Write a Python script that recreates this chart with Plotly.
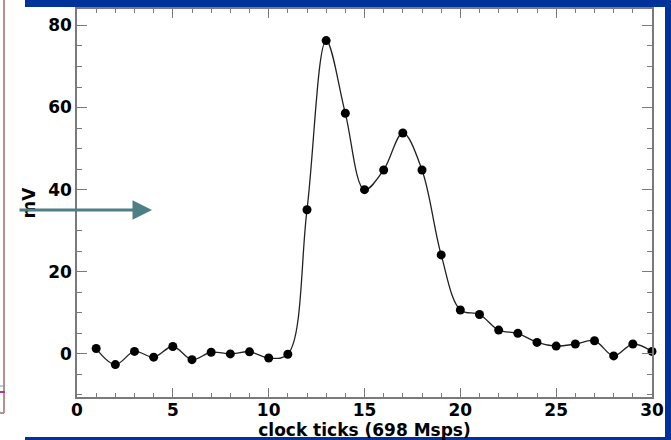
import plotly.graph_objects as go

# ---- data ----
clock_ticks = list(range(1, 31))
millivolts = [1.3, -2.6, 0.6, -0.8, 1.8, -1.4, 0.4, 0.0, 0.5, -1.0,
              -0.1, 35.1, 76.3, 58.6, 40.0, 44.8, 53.8, 44.8, 24.1, 10.7,
              9.6, 5.8, 5.0, 2.8, 1.9, 2.4, 3.2, -0.5, 2.4, 0.6]
x_tickvals = [0, 5, 10, 15, 20, 25, 30]
y_tickvals = [0, 20, 40, 60, 80]
x_title = "clock ticks (698 Msps)"
y_title = "mV"

W, H = 671, 440
L, R, T, B = 77, 19, 9, 43
PW, PH = W - L - R, H - T - B


def px(xp):
    return (xp - L) / PW


def py(yp):
    return (H - B - yp) / PH


BLUE = "#003399"
AX = "#7a7a7a"
FONT = dict(family="DejaVu Sans", size=17, color="black", weight="bold")

fig = go.Figure()
fig.add_trace(go.Scatter(
    x=clock_ticks, y=millivolts, mode="lines+markers",
    line=dict(color="#222222", width=1.3, shape="spline", smoothing=1.0),
    marker=dict(color="black", size=9),
    cliponaxis=False, showlegend=False,
))

shapes = [
    # white slide panel on the blue background
    dict(type="rect", xref="paper", yref="paper", layer="below",
         x0=px(25), x1=px(665), y0=py(7), y1=py(437), fillcolor="white", line_width=0),
    # white strip of the neighbouring panel at the left
    dict(type="rect", xref="paper", yref="paper", layer="below",
         x0=px(-2), x1=px(25), y0=py(-2), y1=py(H + 2), fillcolor="white", line_width=0),
    # left neighbouring panel edge
    dict(type="line", xref="paper", yref="paper", layer="below",
         x0=px(4), x1=px(4), y0=py(0), y1=py(413), line=dict(color="#b89090", width=2)),
    dict(type="line", xref="paper", yref="paper", layer="below",
         x0=px(0), x1=px(4), y0=py(413), y1=py(413), line=dict(color="#b89090", width=2)),
    dict(type="line", xref="paper", yref="paper", layer="below",
         x0=px(0), x1=px(5), y0=py(392), y1=py(392), line=dict(color="#a040a0", width=2)),
    dict(type="line", xref="paper", yref="paper", layer="below",
         x0=px(0), x1=px(5), y0=py(386), y1=py(386), line=dict(color="#9090a0", width=1)),
]

fig.update_layout(
    width=W, height=H,
    margin=dict(l=L, r=R, t=T, b=B, autoexpand=False),
    paper_bgcolor=BLUE, plot_bgcolor="white",
    shapes=shapes,
    annotations=[dict(
        xref="paper", yref="paper", x=px(152), y=py(210),
        ax=-134, ay=0, text="", showarrow=True,
        arrowhead=2, arrowsize=1.3, arrowwidth=3, arrowcolor="#4f7f86",
    )],
    xaxis=dict(
        range=[0, 30], tickvals=x_tickvals, ticks="inside", ticklen=9,
        tickcolor=AX, tickwidth=1.2, showline=True, linecolor=AX, linewidth=1.5,
        mirror="ticks", showgrid=False, zeroline=False, tickfont=FONT,
        automargin=False, ticklabelstandoff=-3,
        minor=dict(dtick=1, ticks="inside", ticklen=4, tickcolor=AX, showgrid=False),
        title=dict(text=x_title, font=FONT, standoff=3),
    ),
    yaxis=dict(
        range=[-10.5, 84], tickvals=y_tickvals, ticks="inside", ticklen=10,
        tickcolor=AX, tickwidth=1.2, showline=True, linecolor=AX, linewidth=1.5,
        mirror="ticks", showgrid=False, zeroline=False, tickfont=FONT,
        automargin=False,
        minor=dict(dtick=5, ticks="inside", ticklen=5, tickcolor=AX, showgrid=False),
        title=dict(text=y_title, font=FONT, standoff=8),
    ),
)

fig.write_html("out.html", config={"displayModeBar": False},
               post_script="document.body.style.margin='0';")
